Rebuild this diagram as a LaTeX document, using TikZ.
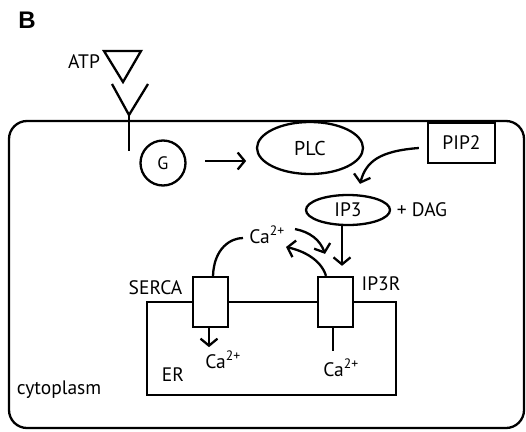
\documentclass[tikz,border=0pt]{standalone}
\usepackage{fontspec}
\setmainfont{PT Sans}
\newfontfamily\boldB{Liberation Sans}
\usetikzlibrary{arrows.meta,shapes.geometric,calc}
\begin{document}
\begin{tikzpicture}[x=1pt,y=-1pt,
  lw/.style={line width=2.3pt},
  arr/.style={lw,-{Straight Barb[length=7pt,width=17pt,line width=2.3pt]}},
  lbl/.style={inner sep=0pt,font=\fontsize{19.5}{21}\selectfont},
  chan/.style={lw,draw,fill=white,minimum width=35pt,minimum height=50pt,inner sep=0pt}]
\useasboundingbox (0,0) rectangle (526,431);
% panel letter
\node[inner sep=0pt,font=\boldB\bfseries\fontsize{24}{26}\selectfont] (B) at (27,20) {B};
% cell outline
\draw[lw,rounded corners=18pt] (9,121) rectangle (524,428);
% ATP and receptor
\node[lbl] (ATP) at (84,62) {ATP};
\coordinate (t1) at (104,51);
\coordinate (t2) at (141,51);
\coordinate (t3) at (123,82);
\draw[lw,line join=miter] (t1) -- (t2) -- (t3) -- cycle;
\coordinate (yl) at (112,84);
\coordinate (yr) at (148,84);
\coordinate (yc) at (129,115);
\coordinate (ys) at (129,151);
\draw[lw] (yl) -- (yc) -- (yr);
\draw[lw] (yc) -- (ys);
% G protein and PLC
\node[lw,draw,circle,minimum size=45pt,inner sep=0pt,font=\fontsize{18}{20}\selectfont] (G) at (163,163) {G};
\node[lw,draw,ellipse,minimum width=106pt,minimum height=52pt,inner sep=0pt,font=\fontsize{20}{22}\selectfont] (PLC) at (310,148) {PLC};
\node[lw,draw,rectangle,minimum width=67pt,minimum height=40pt,inner sep=0pt,font=\fontsize{19.5}{21}\selectfont] (PIP2) at (461.5,143) {PIP2};
\node[lw,draw,ellipse,minimum width=84pt,minimum height=30pt,inner sep=0pt,font=\fontsize{19.5}{21}\selectfont] (IP3) at (348,210) {IP3};
\node[lbl] (DAG) at (422,210) {+ DAG};
\draw[arr] ($(G.east)+(18.5,-2)$) -- ($(G.east)+(59.5,-2)$);
\draw[arr] ($(PIP2.west)+(-8,5)$) .. controls +(-40,3) and +(6,-22) .. ($(IP3.north)+(12,-10)$);
% ER
\draw[lw] (147,302) rectangle (396,395);
\node[chan] (SERCA) at (210.5,302) {};
\node[chan] (IP3R) at (335.5,302) {};
\node[lbl] (SERCAl) at (155.5,288) {SERCA};
\node[lbl] (IP3Rl) at (381,284) {IP3R};
\node[lbl] (ER) at (173,375) {ER};
\node[lbl] (cyto) at (59,390) {cytoplasm};
\node[lbl] (CaTop) at (267,235) {Ca\textsuperscript{2+}};
\node[lbl] (CaER) at (223,360) {Ca\textsuperscript{2+}};
\node[lbl] (CaIn) at (341,368) {Ca\textsuperscript{2+}};
% IP3 -> IP3R
\draw[arr] ($(IP3.south)+(-6,0)$) -- ($(IP3R.north)+(6.5,-10)$);
% Ca arrows near IP3R
\draw[arr] ($(CaTop.center)+(28,-6)$) .. controls +(15,3) and +(-5,-14) .. ($(IP3R.north)+(-10.5,-22)$);
\draw[arr] ($(IP3R.north)+(-9.5,0)$) .. controls +(-5,-16) and +(18,4) .. ($(CaTop.center)+(19,12)$);
% SERCA
\draw[lw] ($(SERCA.north)+(2.5,0)$) .. controls +(1,-28) and +(-12,0) .. ($(CaTop.center)+(-24,3)$);
\draw[arr] ($(SERCA.south)+(-1.5,0)$) -- ++(0,19);
\draw[lw] ($(IP3R.south)+(-2.5,0)$) -- ++(0,23);
\end{tikzpicture}
\end{document}
